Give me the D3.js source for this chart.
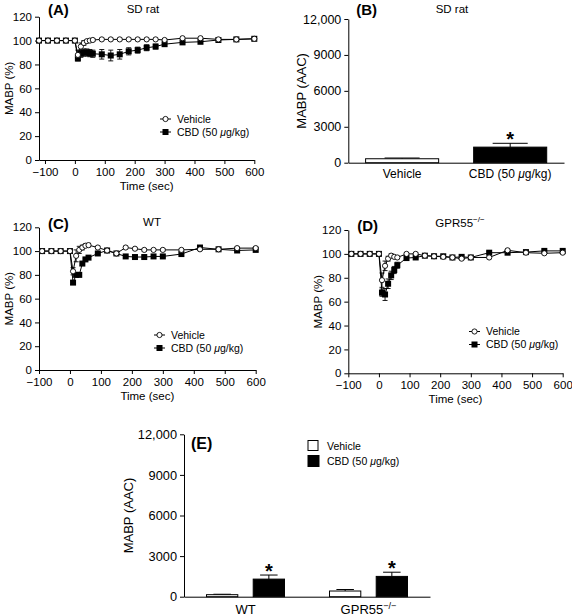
<!DOCTYPE html>
<html><head><meta charset="utf-8">
<script src="https://cdn.jsdelivr.net/npm/d3@7"></script>
<style>body{margin:0;background:#fff}</style>
</head><body><svg id="c" width="572" height="616"></svg>
<script>
const FONT = "'Liberation Sans', Arial, Helvetica, sans-serif";

// ---------- DATA ----------
const timesA = [-120,-90,-60,-30,0,10,20,30,40,50,60,90,120,150,180,210,240,270,300,360,420,480,540,600];
const vehA    = [100,100,100,100,100,88,95,98,99.5,100,100.5,101,101,101,101,101,101,101,100.5,102,102,101,101,101.5];
const vehAErr = [0,0,0,0,0,4,3,2,1,1,1,1,1,1,1,1,1,1,1,1,1,1,1,1];
const cbdA    = [100,100,100,100,100,85,89,90,90,89.5,89,88.5,87.5,88.5,91,92,94,95,97,98.5,99,100.5,101,101.5];
const cbdAErr = [0,0,0,0,0,2,3,3,3,3,3,4,4.5,4,3,2.5,2.5,2,1.5,1,1,1,1,1];

const timesC = [-90,-60,-30,0,10,20,30,40,50,60,90,120,150,180,210,240,270,300,360,420,480,540,600];
const vehC    = [100,100,100,100,83,96,101,103,104.5,105,103,100.5,98,103,102,101,101,101,101,101.5,101.5,102.5,102.5];
const vehCErr = [0,0,0,0,3,5,3,2,1.5,1.5,1,1,1,1,1,1,1,1,1,1,1,1,1];
const cbdC    = [100,100,100,100,73.5,80,80,89.5,93,94.5,98,100.5,98,95.5,95,95,95.5,95.5,97.5,103,101.5,100.5,101];
const cbdCErr = [0,0,0,0,1.5,1.5,1.5,1.5,1,1,1,1,1,1,1,1,1,1,1,1,1,1,1];

const timesD = [-90,-60,-30,0,10,20,30,40,50,60,90,120,150,180,210,240,270,300,360,420,480,540,600];
const vehD    = [100,100,100,100,78,90,96,98.5,97.5,97,100,100,98.5,98,97.5,97,96,97,97,103,101,100.5,101];
const vehDErr = [0,0,0,0,6,4,2,1.5,1,1,1,1,1,1,1,1,1,1,1,1,1,1,1];
const cbdD    = [100,100,100,100,67.5,66,75,82,86.5,90.5,96.5,97,98.5,98,98,97,97.5,97,101,101,101.5,102.5,102.5];
const cbdDErr = [0,0,0,0,3,5,4,3.5,3,2.5,2,1,1,1,1,1,1,1,1,1,1,1,1];

const timeTicks = [-100,0,100,200,300,400,500,600];
const pctTicks = [0,20,40,60,80,100,120];
const aacTicks = [0,3000,6000,9000,12000];

const barCatsB = ["Vehicle","CBD (50 \u03bcg/kg)"];
const barValsB = [330,1300];
const barErrB  = [60,320];
const barSigB  = [false,true];

const groupsE = ["WT","GPR55"];
const seriesE = ["Vehicle","CBD (50 \u03bcg/kg)"];
const vehE    = [150,420];
const vehEErr = [30,110];
const cbdE    = [1300,1500];
const cbdEErr = [300,310];

// ---------- DRAW ----------
const svg = d3.select("#c");
svg.append("rect").attr("width",572).attr("height",616).attr("fill","#fff");

function styleAxis(g, fs){
  g.attr("font-family",FONT).attr("font-size",fs);
  g.selectAll("path,line").attr("stroke","#000").attr("stroke-width",1);
  g.selectAll("text").attr("fill","#000");
}
function addText(x,y,txt,opt={}){
  const t = svg.append("text").attr("x",x).attr("y",y).attr("font-family",FONT)
    .attr("font-size",opt.fs||11.5).attr("fill","#000").attr("text-anchor",opt.anchor||"start");
  if(opt.bold) t.attr("font-weight","bold");
  if(opt.rot) t.attr("transform",`rotate(-90,${x},${y})`);
  t.text(txt);
  return t;
}
function cbdLabel(t){ // "CBD (50 μg/kg)" with italic mu
  t.text(null);
  t.append("tspan").text("CBD (50 ");
  t.append("tspan").attr("font-style","italic").text("\u03bc");
  t.append("tspan").text("g/kg)");
}
function supLabel(t, base, sup, fs){
  t.text(null);
  t.append("tspan").text(base);
  t.append("tspan").attr("dy",-fs*0.4).attr("font-size",fs*0.7).text(sup);
}

function linePanel(o){
  const x = d3.scaleLinear().domain(o.xdom).range([o.x0,o.x1]);
  const y = d3.scaleLinear().domain([0,120]).range([o.y0,o.y1]);
  const gx = svg.append("g").attr("transform",`translate(0,${o.y0})`)
    .call(d3.axisBottom(x).tickValues(timeTicks).tickSize(4).tickSizeOuter(0).tickPadding(4));
  styleAxis(gx,11.5);
  const gy = svg.append("g").attr("transform",`translate(${o.x0},0)`)
    .call(d3.axisLeft(y).tickValues(pctTicks).tickSize(4).tickSizeOuter(0).tickPadding(3));
  styleAxis(gy,11.5);

  const series = [
    {t:o.times, v:o.cbd, e:o.cbdErr, kind:"sq"},
    {t:o.times, v:o.veh, e:o.vehErr, kind:"ci"}
  ];
  series.forEach(s=>{
    const pts = s.t.map((t,i)=>({t, v:s.v[i], e:s.e[i]}));
    const eb = svg.append("g").attr("stroke","#000").attr("stroke-width",0.9);
    pts.filter(p=>p.e>0).forEach(p=>{
      const cx = x(p.t), ya = y(p.v-p.e), yb = y(p.v+p.e);
      eb.append("line").attr("x1",cx).attr("x2",cx).attr("y1",ya).attr("y2",yb);
      eb.append("line").attr("x1",cx-2.5).attr("x2",cx+2.5).attr("y1",ya).attr("y2",ya);
      eb.append("line").attr("x1",cx-2.5).attr("x2",cx+2.5).attr("y1",yb).attr("y2",yb);
    });
    svg.append("path").datum(pts).attr("fill","none").attr("stroke","#000").attr("stroke-width",1)
      .attr("d", d3.line().x(p=>x(p.t)).y(p=>y(p.v)));
  });
  series.forEach(s=>{
    const pts = s.t.map((t,i)=>({t, v:s.v[i]}));
    if(s.kind==="sq"){
      svg.append("g").selectAll("rect").data(pts).join("rect")
        .attr("x",p=>x(p.t)-3).attr("y",p=>y(p.v)-3).attr("width",6).attr("height",6).attr("fill","#000");
    } else {
      svg.append("g").selectAll("circle").data(pts).join("circle")
        .attr("cx",p=>x(p.t)).attr("cy",p=>y(p.v)).attr("r",2.6)
        .attr("fill","#fff").attr("stroke","#000").attr("stroke-width",0.9);
    }
  });
  // legend
  const lx = o.legX, ly = o.legY;
  svg.append("line").attr("x1",lx).attr("x2",lx+11).attr("y1",ly).attr("y2",ly).attr("stroke","#000");
  svg.append("circle").attr("cx",lx+5.5).attr("cy",ly).attr("r",2.6).attr("fill","#fff").attr("stroke","#000").attr("stroke-width",0.9);
  addText(lx+17,ly+3.8,"Vehicle",{fs:10.5});
  const ly2 = ly+13;
  svg.append("line").attr("x1",lx).attr("x2",lx+11).attr("y1",ly2).attr("y2",ly2).attr("stroke","#000");
  svg.append("rect").attr("x",lx+2.5).attr("y",ly2-3).attr("width",6).attr("height",6).attr("fill","#000");
  cbdLabel(addText(lx+17,ly2+3.8,"",{fs:10.5}));
  // labels
  addText(o.x0+9,o.titleY,o.letter,{fs:15,bold:true});
  const st = addText(o.subX,o.subY,o.sub,{fs:11.5,anchor:"middle"});
  if(o.subSup) supLabel(st,"GPR55","\u2212/\u2212",11.5);
  addText((o.x0+o.x1)/2,o.y0+30,"Time (sec)",{fs:11.5,anchor:"middle"});
  addText(o.ylabX,(o.y0+o.y1)/2,"MABP (%)",{fs:11.5,anchor:"middle",rot:true});
}

linePanel({times:timesA, veh:vehA, vehErr:vehAErr, cbd:cbdA, cbdErr:cbdAErr,
  xdom:[-120,600], x0:39, x1:254.3, y0:160, y1:16.7, legX:160, legY:119,
  letter:"(A)", titleY:15, sub:"SD rat", subX:143, subY:13, ylabX:13});
linePanel({times:timesC, veh:vehC, vehErr:vehCErr, cbd:cbdC, cbdErr:cbdCErr,
  xdom:[-100,600], x0:39, x1:255.7, y0:370, y1:227.3, legX:154, legY:335,
  letter:"(C)", titleY:229, sub:"WT", subX:152, subY:226, ylabX:13});
linePanel({times:timesD, veh:vehD, vehErr:vehDErr, cbd:cbdD, cbdErr:cbdDErr,
  xdom:[-100,600], x0:348.3, x1:562.7, y0:373.3, y1:230, legX:469, legY:331.5,
  letter:"(D)", titleY:231, sub:"GPR55", subSup:true, subX:460, subY:227, ylabX:322});

// ---------- Panel B ----------
(function(){
  const x0=348.3, x1=564, y0=162.7, y1=19;
  const x = d3.scaleBand().domain(barCatsB).range([x0,x1]).paddingInner(0.324).paddingOuter(0.16);
  const y = d3.scaleLinear().domain([0,12000]).range([y0,y1]);
  const fmt = d=> d>=10000 ? d3.format(",")(d) : d3.format("d")(d);
  const gx = svg.append("g").attr("transform",`translate(0,${y0})`)
    .call(d3.axisBottom(x).tickSize(0).tickSizeOuter(0).tickPadding(7));
  styleAxis(gx,12);
  gx.selectAll(".tick text").each(function(d){ if(d!=="Vehicle") cbdLabel(d3.select(this)); });
  const gy = svg.append("g").attr("transform",`translate(${x0},0)`)
    .call(d3.axisLeft(y).tickValues(aacTicks).tickFormat(fmt).tickSize(4).tickSizeOuter(0).tickPadding(3));
  styleAxis(gy,12.5);
  barCatsB.forEach((c,i)=>{
    const bx = x(c), bw = x.bandwidth(), cx = bx+bw/2;
    const top = y(barValsB[i]+barErrB[i]);
    svg.append("line").attr("x1",cx).attr("x2",cx).attr("y1",y(barValsB[i])).attr("y2",top).attr("stroke","#000");
    svg.append("line").attr("x1",cx-bw*0.24).attr("x2",cx+bw*0.24).attr("y1",top).attr("y2",top).attr("stroke","#000");
    svg.append("rect").attr("x",bx).attr("y",y(barValsB[i])).attr("width",bw).attr("height",y0-y(barValsB[i]))
      .attr("fill", i===0?"#fff":"#000").attr("stroke","#000").attr("stroke-width",1);
    if(barSigB[i]) addText(cx,top+3,"*",{fs:20,bold:true,anchor:"middle"});
  });
  addText(x0+8,15,"(B)",{fs:15,bold:true});
  addText(452,13,"SD rat",{fs:11.5,anchor:"middle"});
  addText(306,(y0+y1)/2,"MABP (AAC)",{fs:13,anchor:"middle",rot:true});
})();

// ---------- Panel E ----------
(function(){
  const x0=184, x1=430, y0=596.7, y1=434.3;
  const x = d3.scaleBand().domain(groupsE).range([x0,x1]).paddingInner(0.366).paddingOuter(0.183);
  const xs = d3.scaleBand().domain(seriesE).range([0,x.bandwidth()]).paddingInner(0.33);
  const y = d3.scaleLinear().domain([0,12000]).range([y0,y1]);
  const fmt = d=> d>=10000 ? d3.format(",")(d) : d3.format("d")(d);
  const gx = svg.append("g").attr("transform",`translate(0,${y0})`)
    .call(d3.axisBottom(x).tickSize(0).tickSizeOuter(0).tickPadding(8));
  styleAxis(gx,13);
  gx.selectAll(".tick text").each(function(d){ if(d==="GPR55") supLabel(d3.select(this),"GPR55","\u2212/\u2212",13); });
  const gy = svg.append("g").attr("transform",`translate(${x0},0)`)
    .call(d3.axisLeft(y).tickValues(aacTicks).tickFormat(fmt).tickSize(4).tickSizeOuter(0).tickPadding(3));
  styleAxis(gy,12.8);
  const vals = [vehE, cbdE], errs = [vehEErr, cbdEErr];
  groupsE.forEach((g,gi)=>{
    seriesE.forEach((s,si)=>{
      const bx = x(g)+xs(s), bw = xs.bandwidth(), cx = bx+bw/2;
      const v = vals[si][gi], e = errs[si][gi], top = y(v+e);
      svg.append("line").attr("x1",cx).attr("x2",cx).attr("y1",y(v)).attr("y2",top).attr("stroke","#000");
      svg.append("line").attr("x1",cx-bw*0.28).attr("x2",cx+bw*0.28).attr("y1",top).attr("y2",top).attr("stroke","#000");
      svg.append("rect").attr("x",bx).attr("y",y(v)).attr("width",bw).attr("height",y0-y(v))
        .attr("fill", si===0?"#fff":"#000").attr("stroke","#000").attr("stroke-width",1);
      if(si===1) addText(cx,top+3,"*",{fs:20,bold:true,anchor:"middle"});
    });
  });
  addText(191,449,"(E)",{fs:16,bold:true});
  addText(133,(y0+y1)/2,"MABP (AAC)",{fs:13,anchor:"middle",rot:true});
  // legend
  svg.append("rect").attr("x",308).attr("y",440.5).attr("width",10).attr("height",10).attr("fill","#fff").attr("stroke","#000");
  addText(327,449.5,"Vehicle",{fs:10.5});
  svg.append("rect").attr("x",308).attr("y",455.5).attr("width",11).attr("height",11).attr("fill","#000").attr("stroke","#000");
  cbdLabel(addText(327,465,"",{fs:10.5}));
})();
</script></body></html>
